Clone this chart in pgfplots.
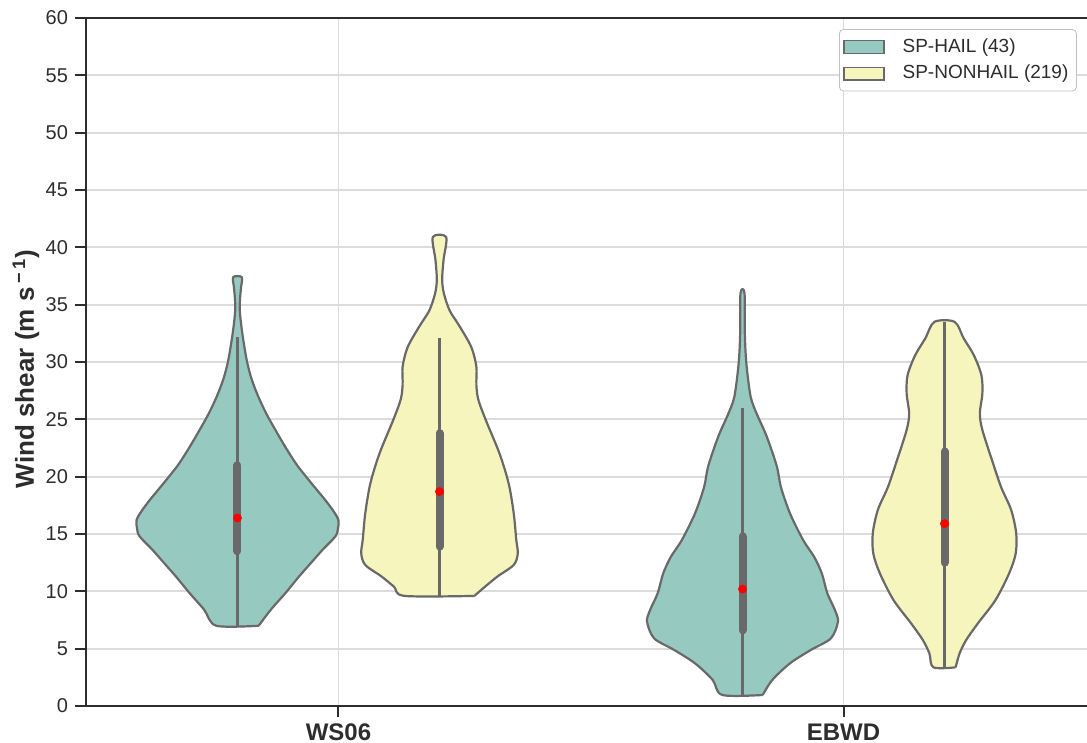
\documentclass[border=0pt]{standalone}
\usepackage{fontspec}
\setmainfont{Liberation Sans}
\usepackage{pgfplots}
\pgfplotsset{compat=1.18}
\usepackage{pgfplotstable}

\definecolor{hailc}{RGB}{150,202,193}
\definecolor{nonhailc}{RGB}{245,245,189}
\definecolor{vgray}{RGB}{105,105,105}
\definecolor{spine}{RGB}{45,45,45}
\definecolor{gridc}{RGB}{220,220,220}

% violin outlines: value (y) and signed offset from the violin centre (d),
% right side going up, left side coming back down
\pgfplotstableread{
y     d
7.0   0.042
8.4   0.066
9.8   0.094
11.3  0.122
12.4  0.144
13.6  0.168
14.8  0.194
15.5  0.199
16.2  0.200
17.0  0.190
18.0  0.173
19.5  0.145
21.0  0.118
22.5  0.096
24.0  0.076
25.5  0.057
27.0  0.041
28.5  0.028
30.0  0.019
31.5  0.013
33.0  0.008
34.5  0.0045
35.5  0.005
36.5  0.007
37.4  0.0085
37.4  -0.0085
36.5  -0.007
35.5  -0.005
34.5  -0.0045
33.0  -0.008
31.5  -0.013
30.0  -0.019
28.5  -0.028
27.0  -0.041
25.5  -0.057
24.0  -0.076
22.5  -0.096
21.0  -0.118
19.5  -0.145
18.0  -0.173
17.0  -0.190
16.2  -0.200
15.5  -0.199
14.8  -0.194
13.6  -0.168
12.4  -0.144
11.3  -0.122
9.8   -0.094
8.4   -0.066
7.0   -0.042
7.0   0.042
}\wshail

\pgfplotstableread{
y     d
9.6   0.069
10.4  0.090
11.3  0.115
12.3  0.147
13.3  0.155
14.5  0.152
16.8  0.147
19.4  0.137
22.0  0.119
24.9  0.092
26.7  0.077
28.0  0.073
29.6  0.073
31.3  0.063
33.1  0.040
34.5  0.020
36.0  0.0086
37.2  0.0053
38.9  0.008
40.9  0.0132
40.9  -0.0132
38.9  -0.008
37.2  -0.0053
36.0  -0.0086
34.5  -0.020
33.1  -0.040
31.3  -0.063
29.6  -0.073
28.0  -0.073
26.7  -0.077
24.9  -0.092
22.0  -0.119
19.4  -0.137
16.8  -0.147
14.5  -0.152
13.3  -0.155
12.3  -0.147
11.3  -0.115
10.4  -0.090
9.6   -0.069
9.6   0.069
}\wsnon

\pgfplotstableread{
y     d
0.96  0.040
2.27  0.059
3.72  0.094
4.88  0.135
5.9   0.175
7.35  0.189
8.37  0.183
9.83  0.168
11.57 0.157
13.0  0.142
14.48 0.120
16.8  0.094
19.1  0.076
20.9  0.068
23.5  0.048
25.5  0.028
27.0  0.016
29.9  0.0076
32.5  0.0046
36.0  0.004
36.0  -0.004
32.5  -0.0046
29.9  -0.0076
27.0  -0.016
25.5  -0.028
23.5  -0.048
20.9  -0.068
19.1  -0.076
16.8  -0.094
14.48 -0.120
13.0  -0.142
11.57 -0.157
9.83  -0.168
8.37  -0.183
7.35  -0.189
5.9   -0.175
4.88  -0.135
3.72  -0.094
2.27  -0.059
0.96  -0.040
0.96  0.040
}\ebhail

\pgfplotstableread{
y     d
3.37  0.022
4.6   0.030
5.76  0.043
7.2   0.066
9.24  0.101
11.57 0.128
13.3  0.141
15.06 0.142
17.1  0.132
19.1  0.112
21.45 0.094
24.07 0.075
25.5  0.070
27.27 0.075
28.87 0.073
30.6  0.058
32.06 0.038
33.5  0.020
33.5  -0.020
32.06 -0.038
30.6  -0.058
28.87 -0.073
27.27 -0.075
25.5  -0.070
24.07 -0.075
21.45 -0.094
19.1  -0.112
17.1  -0.132
15.06 -0.142
13.3  -0.141
11.57 -0.128
9.24  -0.101
7.2   -0.066
5.76  -0.043
4.6   -0.030
3.37  -0.022
3.37  0.022
}\ebnon

\begin{document}
\begin{tikzpicture}
\begin{axis}[
  at={(0,0)}, anchor=south west,
  scale only axis, width=505pt, height=344pt,
  xmin=-0.5, xmax=1.5, ymin=0, ymax=60,
  xtick={0,1}, xticklabels={WS06,EBWD},
  ytick={0,5,...,60},
  xtick pos=left, ytick pos=left,
  tick align=outside,
  major tick length=5.5pt,
  every tick/.style={spine, line width=1pt},
  axis line style={spine, line width=1.1pt},
  grid=major,
  major grid style={gridc, line width=0.9pt},
  tick label style={font=\fontsize{10}{12}\selectfont, text=spine},
  xticklabel style={font=\bfseries\fontsize{12}{14}\selectfont},
  /pgf/number format/assume math mode=true,
  ylabel={Wind shear (m s\,\textsuperscript{−\,1})},
  every axis y label/.style={at={(axis description cs:0,0.49)}, xshift=-30pt,
    rotate=90, anchor=center, font=\bfseries\fontsize{13}{15}\selectfont, text=spine},
  legend style={at={(0.981,0.984)}, anchor=north east, draw=gridc!70!gray,
    rounded corners=2pt, fill=white, font=\fontsize{9.5}{11}\selectfont,
    text=spine, inner xsep=2pt, inner ysep=2.5pt, row sep=1pt},
  legend cell align=left,
  legend image code/.code={\draw[#1, sharp corners] (0pt,-3.2pt) rectangle (20pt,3.2pt); \path (27pt,0pt);},
  violin/.style={draw=vgray, line width=1.1pt, line join=round, smooth, tension=0.5, forget plot},
]
% violin bodies
\addplot[violin, fill=hailc]    table[x expr=-0.2+\thisrow{d}, y=y] {\wshail};
\addplot[violin, fill=nonhailc] table[x expr=0.2+\thisrow{d}, y=y] {\wsnon};
\addplot[violin, fill=hailc]    table[x expr=0.8+\thisrow{d}, y=y] {\ebhail};
\addplot[violin, fill=nonhailc] table[x expr=1.2+\thisrow{d}, y=y] {\ebnon};

% whiskers
\addplot[vgray, line width=1.3pt, forget plot] coordinates {(-0.2,7.0) (-0.2,32.2)};
\addplot[vgray, line width=1.3pt, forget plot] coordinates {(0.2,9.6) (0.2,32.1)};
\addplot[vgray, line width=1.3pt, forget plot] coordinates {(0.8,0.96) (0.8,26.0)};
\addplot[vgray, line width=1.3pt, forget plot] coordinates {(1.2,3.37) (1.2,33.5)};
% interquartile boxes
\addplot[vgray, line width=4pt, line cap=round, forget plot] coordinates {(-0.2,13.5) (-0.2,21.0)};
\addplot[vgray, line width=4pt, line cap=round, forget plot] coordinates {(0.2,13.9) (0.2,23.8)};
\addplot[vgray, line width=4pt, line cap=round, forget plot] coordinates {(0.8,6.6) (0.8,14.8)};
\addplot[vgray, line width=4pt, line cap=round, forget plot] coordinates {(1.2,12.5) (1.2,22.2)};
% medians
\addplot[only marks, mark=*, mark size=2pt, color=red, forget plot] coordinates {(-0.2,16.4) (0.2,18.7) (0.8,10.2) (1.2,15.9)};

\addlegendimage{fill=hailc, draw=vgray, line width=0.6pt}
\addlegendentry{SP-HAIL (43)}
\addlegendimage{fill=nonhailc, draw=vgray, line width=0.6pt}
\addlegendentry{SP-NONHAIL (219)}
\end{axis}
% page frame: the plot area runs off the right edge
\pgfresetboundingbox
\useasboundingbox (-43pt,-18.5pt) rectangle (500.5pt,353pt);
\end{tikzpicture}
\end{document}
